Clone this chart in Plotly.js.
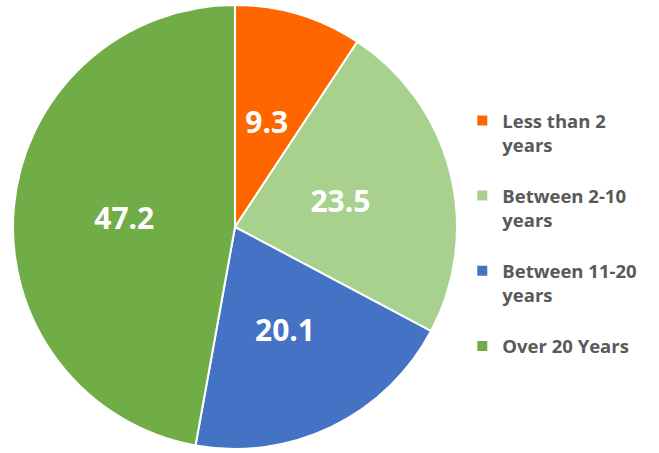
<!DOCTYPE html>
<html><head><meta charset="utf-8">
<script src="https://cdn.plot.ly/plotly-3.0.1.min.js"></script>
<style>html,body{margin:0;padding:0;background:#fff;}#chart{width:659px;height:453px;}</style>
</head><body><div id="chart"></div>
<script>
var labels = ["Less than 2<br>years", "Between 2-10<br>years", "Between 11-20<br>years", "Over 20 Years"];
var values = [9.3, 23.5, 20.1, 47.2];
var colors = ["#FF6600", "#A9D18E", "#4472C4", "#70AD47"];

// legend entries: a spacer line after wrapped labels so items are spaced like the original
var legendLabels = labels.map(function (l, i) {
  return i < labels.length - 1 ? l + "<br>\u00a0" : l;
});

// pie centre and radius in pixels (layout only)
var W = 659, H = 453, CX = 235, CY = 227;
function dom(r) {
  return {x: [(CX - r) / W, (CX + r) / W], y: [(H - CY - r) / H, (H - CY + r) / H]};
}
var labelFont = {family: "Open Sans, sans-serif", size: 30, color: "#FFFFFF", weight: "bold"};

var main = {
  type: "pie",
  labels: legendLabels, values: values,
  sort: false, direction: "clockwise", rotation: 0,
  marker: {colors: colors, line: {color: "#FFFFFF", width: 2}},
  texttemplate: "%{value:.1f}",
  textposition: ["none", "none", "none", "inside"],
  insidetextorientation: "horizontal",
  textfont: labelFont,
  hoverinfo: "label+value",
  domain: dom(222)
};
// transparent overlay pies so the other labels sit nearer the centre, like the original
function overlay(r, pos) {
  return {
    type: "pie",
    labels: legendLabels, values: values,
    sort: false, direction: "clockwise", rotation: 0,
    marker: {colors: ["rgba(0,0,0,0)", "rgba(0,0,0,0)", "rgba(0,0,0,0)", "rgba(0,0,0,0)"], line: {width: 0}},
    texttemplate: "%{value:.1f}",
    textposition: pos,
    insidetextorientation: "horizontal",
    textfont: labelFont,
    hoverinfo: "skip",
    showlegend: false,
    domain: dom(r)
  };
}
var ov1 = overlay(142, ["inside", "none", "none", "none"]);
var ov2 = overlay(182, ["none", "inside", "inside", "none"]);

var layout = {
  width: W, height: H,
  margin: {l: 0, r: 0, t: 0, b: 0},
  paper_bgcolor: "#FFFFFF",
  showlegend: true,
  legend: {
    x: 0.7015, y: 0.775, xanchor: "left", yanchor: "top", valign: "top",
    font: {family: "Open Sans, sans-serif", size: 18.5, color: "#595959", weight: "bold"},
    itemwidth: 30
  }
};

Plotly.newPlot("chart", [main, ov1, ov2], layout, {displayModeBar: false, staticPlot: true});
</script></body></html>
